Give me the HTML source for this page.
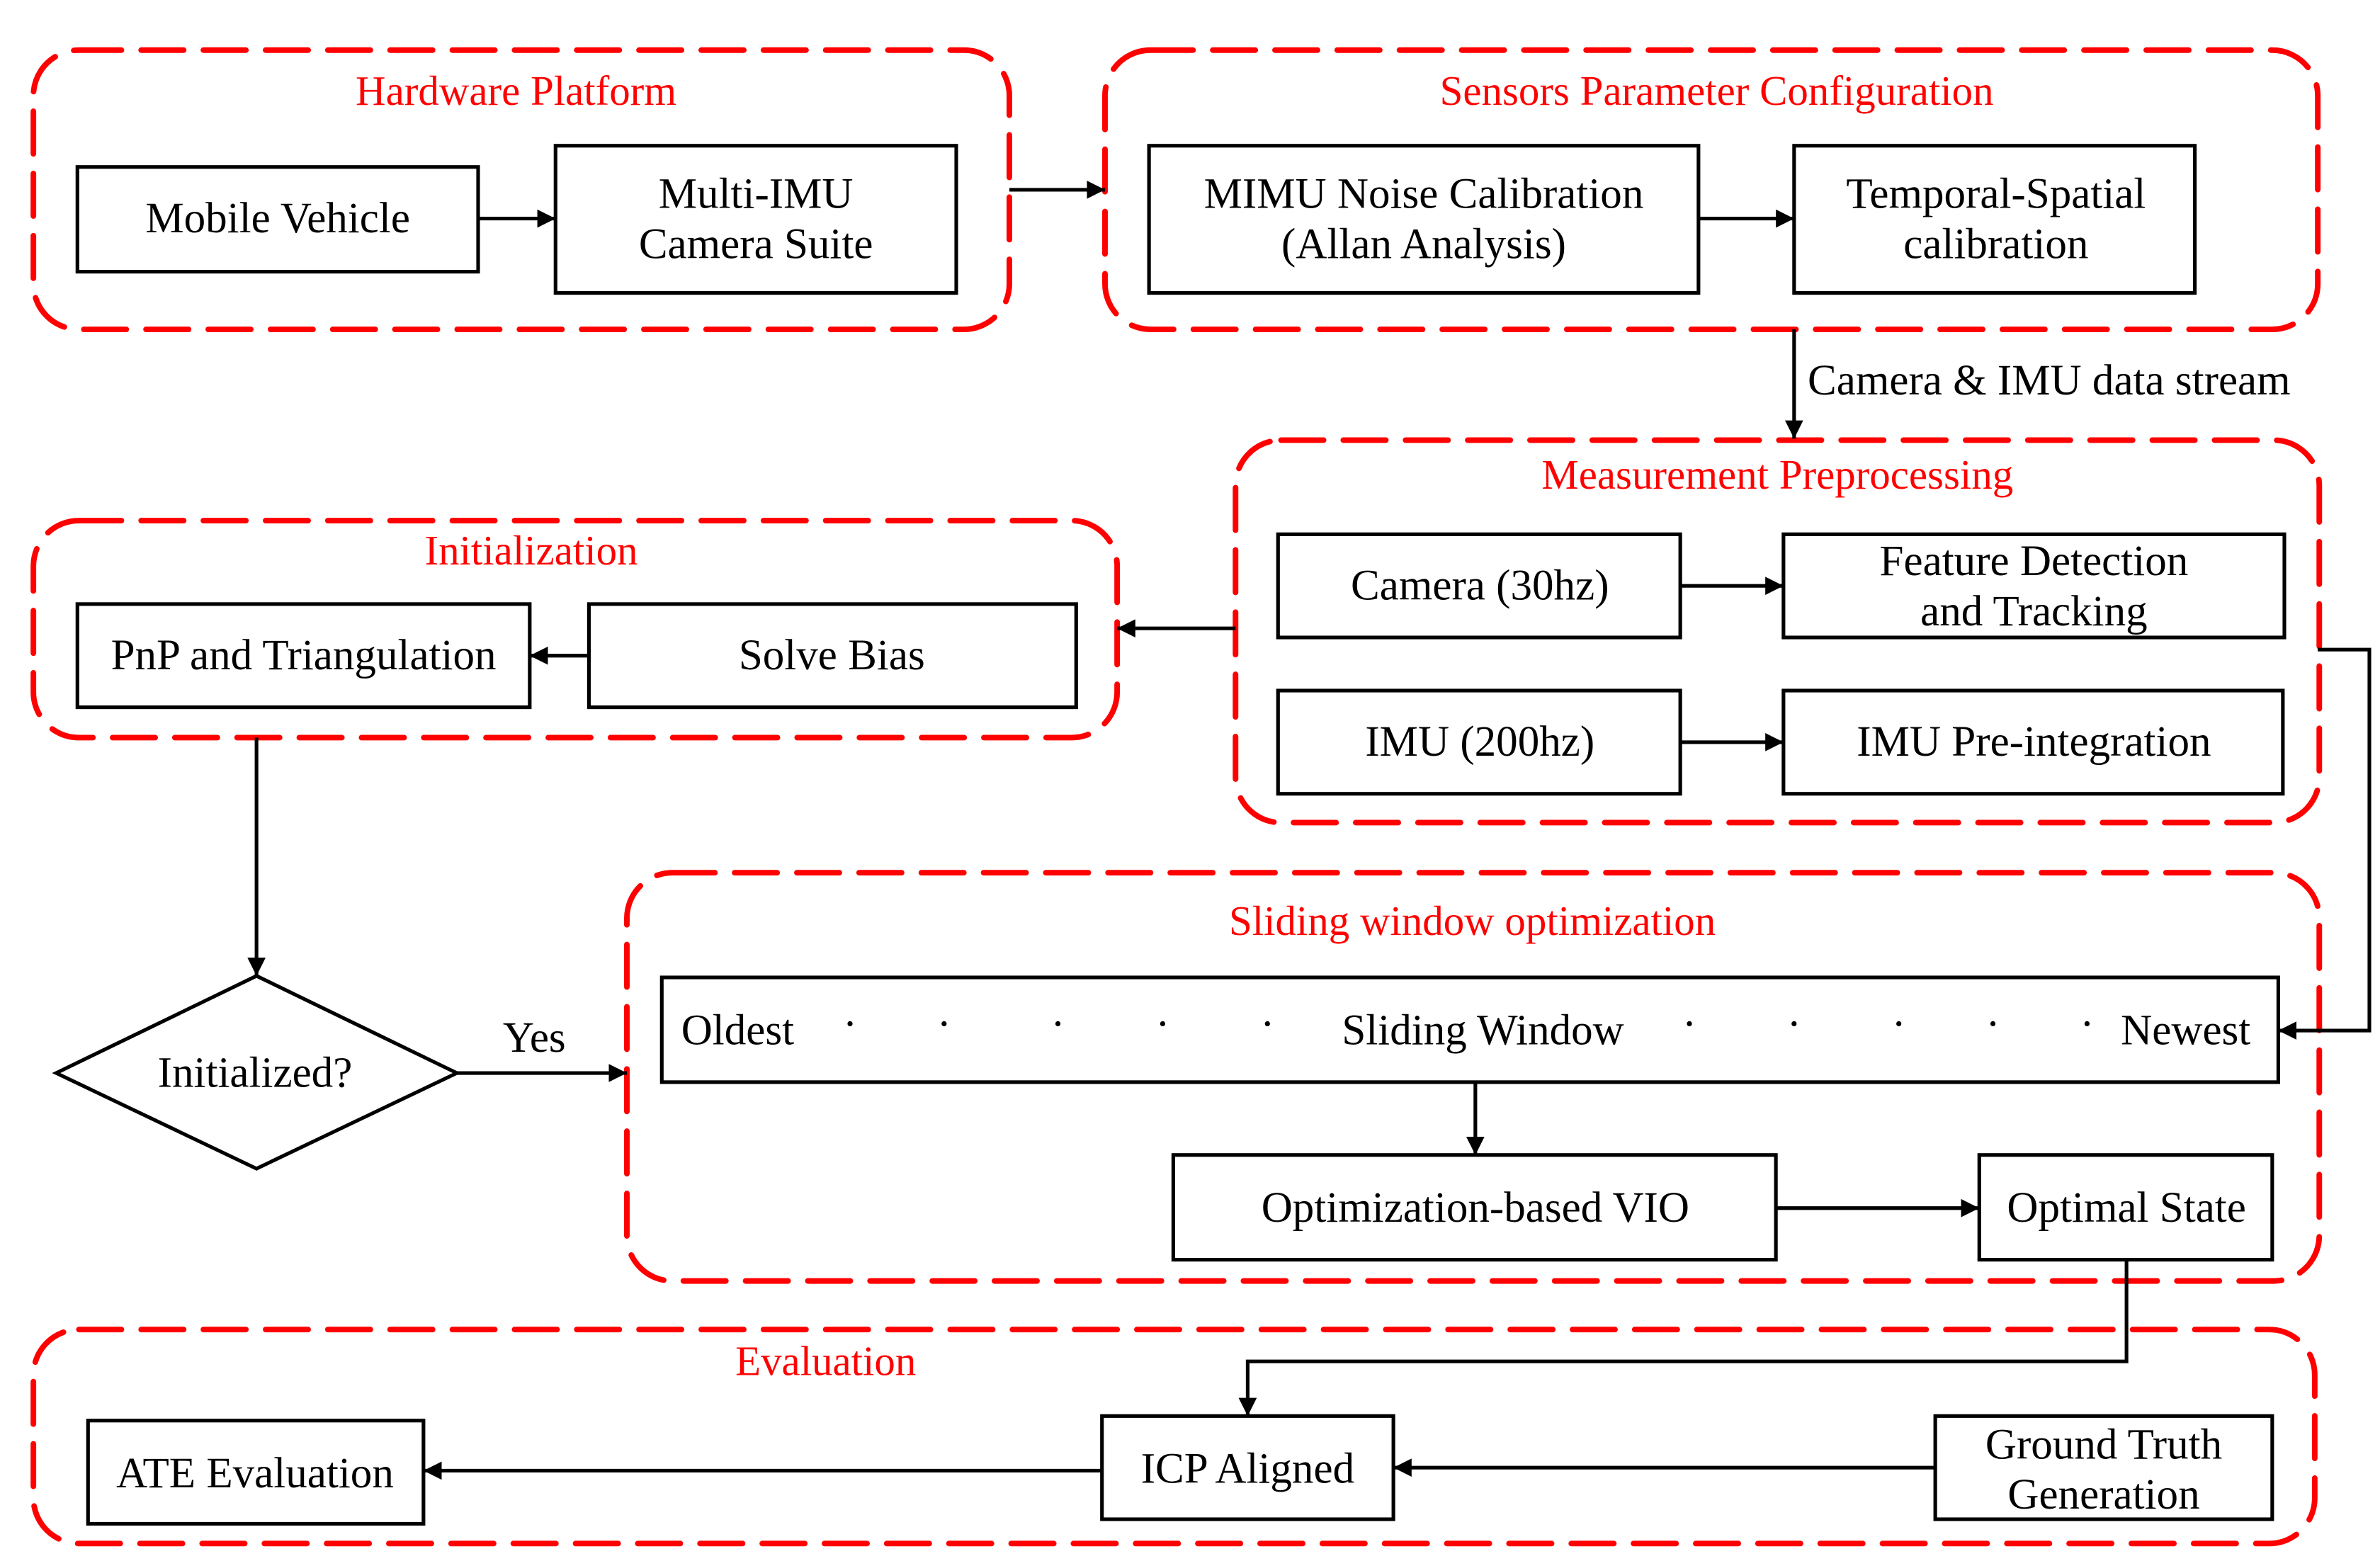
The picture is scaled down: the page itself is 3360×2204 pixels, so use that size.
<!DOCTYPE html>
<html><head><meta charset="utf-8"><style>html,body{margin:0;padding:0;background:#fff}svg{display:block}</style></head>
<body>
<svg width="3360" height="2204" viewBox="0 0 1568 1028.5" xmlns="http://www.w3.org/2000/svg" font-family="'Liberation Serif', serif">
<defs>
<marker id="a" markerWidth="12" markerHeight="12" refX="10" refY="5" orient="auto" markerUnits="userSpaceOnUse" viewBox="0 0 10 10">
<path d="M0,0 L10,5 L0,10 z" fill="#000"/></marker>
</defs>
<g fill="none" stroke="#f00" stroke-width="3.7" stroke-dasharray="28,13" stroke-linecap="round">
<rect x="22" y="33" width="643" height="184" rx="30"/>
<rect x="728" y="33" width="799" height="184" rx="30"/>
<rect x="814" y="290" width="714" height="252" rx="30"/>
<rect x="22" y="343" width="714" height="143" rx="30"/>
<rect x="413" y="575" width="1115" height="269" rx="30"/>
<rect x="22" y="876" width="1503" height="141" rx="30"/>
</g>
<g fill="#fff" stroke="#000" stroke-width="2.4">
<rect x="51" y="110" width="264" height="69"/>
<rect x="366" y="96" width="264" height="97"/>
<rect x="757" y="96" width="362" height="97"/>
<rect x="1182" y="96" width="264" height="97"/>
<rect x="842" y="352" width="265" height="68"/>
<rect x="1175" y="352" width="330" height="68"/>
<rect x="842" y="455" width="265" height="68"/>
<rect x="1175" y="455" width="329" height="68"/>
<rect x="51" y="398" width="298" height="68"/>
<rect x="388" y="398" width="321" height="68"/>
<polygon points="37,707 169,643 301,707 169,770"/>
<rect x="436" y="644" width="1065" height="69"/>
<rect x="773" y="761" width="397" height="69"/>
<rect x="1304" y="761" width="193" height="69"/>
<rect x="58" y="936" width="221" height="68"/>
<rect x="726" y="933" width="192" height="68"/>
<rect x="1275" y="933" width="222" height="68"/>
</g>
<g fill="none" stroke="#000" stroke-width="2.4" marker-end="url(#a)">
<line x1="315" y1="144" x2="366" y2="144"/>
<line x1="665" y1="125" x2="728" y2="125"/>
<line x1="1119" y1="144" x2="1182" y2="144"/>
<line x1="1182" y1="217" x2="1182" y2="289"/>
<line x1="1107" y1="386" x2="1175" y2="386"/>
<line x1="1107" y1="489" x2="1175" y2="489"/>
<line x1="814" y1="414" x2="736" y2="414"/>
<line x1="388" y1="432" x2="349" y2="432"/>
<polyline points="1527,428 1561,428 1561,679 1501,679"/>
<line x1="169" y1="486" x2="169" y2="643"/>
<line x1="301" y1="707" x2="413" y2="707"/>
<line x1="972" y1="713" x2="972" y2="761"/>
<line x1="1170" y1="796" x2="1304" y2="796"/>
<polyline points="1401,830 1401,897 822,897 822,933"/>
<line x1="1275" y1="967" x2="918" y2="967"/>
<line x1="726" y1="969" x2="279" y2="969"/>
</g>
<g fill="#f00" font-size="27.5" text-anchor="middle">
<text x="340" y="69">Hardware Platform</text>
<text x="1131" y="69">Sensors Parameter Configuration</text>
<text x="1171" y="322">Measurement Preprocessing</text>
<text x="350" y="372">Initialization</text>
<text x="970" y="616">Sliding window optimization</text>
<text x="544" y="906">Evaluation</text>
</g>
<g fill="#000" font-size="28.5" text-anchor="middle">
<text x="183" y="153">Mobile Vehicle</text>
<text x="498" y="137">Multi-IMU</text>
<text x="498" y="170">Camera Suite</text>
<text x="938" y="137">MIMU Noise Calibration</text>
<text x="938" y="170">(Allan Analysis)</text>
<text x="1315" y="137">Temporal-Spatial</text>
<text x="1315" y="170">calibration</text>
<text x="1350" y="260">Camera &amp; IMU data stream</text>
<text x="975" y="395">Camera (30hz)</text>
<text x="1340" y="379">Feature Detection</text>
<text x="1340" y="412">and Tracking</text>
<text x="975" y="498">IMU (200hz)</text>
<text x="1340" y="498">IMU Pre-integration</text>
<text x="200" y="441">PnP and Triangulation</text>
<text x="548" y="441">Solve Bias</text>
<text x="168" y="716">Initialized?</text>
<text x="352" y="693">Yes</text>
<text x="486" y="688">Oldest</text>
<text x="977" y="688">Sliding Window</text>
<text x="1440" y="688">Newest</text>
<text x="560" y="684">·</text><text x="622" y="684">·</text><text x="697" y="684">·</text><text x="766" y="684">·</text><text x="835" y="684">·</text>
<text x="1113" y="684">·</text><text x="1182" y="684">·</text><text x="1251" y="684">·</text><text x="1313" y="684">·</text><text x="1375" y="684">·</text>
<text x="972" y="805">Optimization-based VIO</text>
<text x="1401" y="805">Optimal State</text>
<text x="168" y="980">ATE Evaluation</text>
<text x="822" y="977">ICP Aligned</text>
<text x="1386" y="961">Ground Truth</text>
<text x="1386" y="994">Generation</text>
</g>
</svg>
</body></html>
